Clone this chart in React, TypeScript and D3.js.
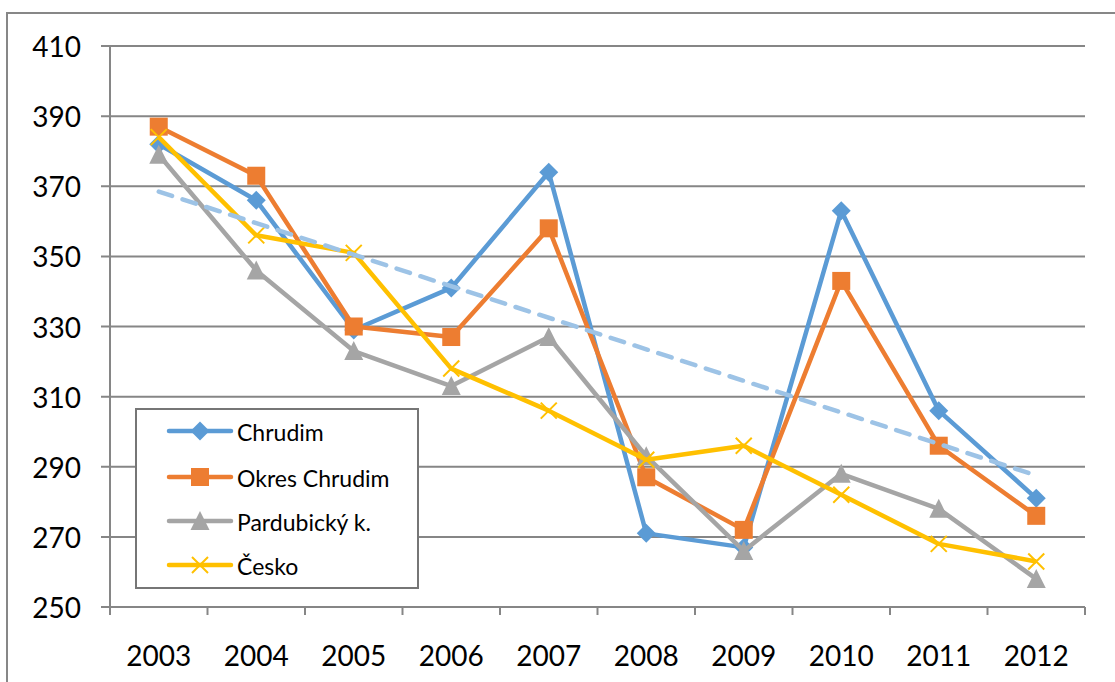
import React from 'react';
import * as d3 from 'd3';

// values
const years = ['2003', '2004', '2005', '2006', '2007', '2008', '2009', '2010', '2011', '2012'];
const chrudim = [382, 366, 329, 341, 374, 271, 267, 363, 306, 281];
const okresChrudim = [387, 373, 330, 327, 358, 287, 272, 343, 296, 276];
const pardubicky = [379, 346, 323, 313, 327, 293, 266, 288, 278, 258];
const cesko = [384, 356, 351, 318, 306, 292, 296, 282, 268, 263];
const yTicks = [250, 270, 290, 310, 330, 350, 370, 390, 410];

const seriesNames = ['Chrudim', 'Okres Chrudim', 'Pardubický k.', 'Česko'];
const seriesColors = ['#5B9BD5', '#ED7D31', '#A5A5A5', '#FFC000'];
const seriesMarkers = ['diamond', 'square', 'triangle', 'x'];
const seriesData = [chrudim, okresChrudim, pardubicky, cesko];

const W = 1115;
const H = 682;
const FONT = 'Lato, "Open Sans", sans-serif';
const GRID = '#868686';

const Marker = ({ type, x, y, color }: { type: string; x: number; y: number; color: string }) => {
  if (type === 'diamond') {
    const s = 9.5;
    return <path d={`M${x},${y - s}L${x + s},${y}L${x},${y + s}L${x - s},${y}Z`} fill={color} />;
  }
  if (type === 'square') {
    return <rect x={x - 9} y={y - 9} width={18} height={18} fill={color} />;
  }
  if (type === 'triangle') {
    return <path d={`M${x},${y - 10}L${x + 9.5},${y + 9}L${x - 9.5},${y + 9}Z`} fill={color} />;
  }
  const s = 8;
  return (
    <path
      d={`M${x - s},${y - s}L${x + s},${y + s}M${x + s},${y - s}L${x - s},${y + s}`}
      stroke={color}
      strokeWidth={2}
      fill="none"
    />
  );
};

export default function App() {
  const left = 110;
  const right = 1085;
  const top = 46;
  const bottom = 607;

  const x = d3.scaleBand().domain(years).range([left, right]).padding(0);
  const y = d3.scaleLinear().domain([250, 410]).range([bottom, top]);
  const cx = (i: number) => (x(years[i]) as number) + x.bandwidth() / 2;

  const line = d3
    .line<number>()
    .x((_, i) => cx(i))
    .y((d) => y(d));

  // linear trend of Chrudim
  const idx = years.map((_, i) => i + 1);
  const mx = d3.mean(idx) as number;
  const my = d3.mean(chrudim) as number;
  const slope =
    (d3.sum(idx, (v, i) => (v - mx) * (chrudim[i] - my)) as number) /
    (d3.sum(idx, (v) => (v - mx) * (v - mx)) as number);
  const trend = idx.map((v) => my + slope * (v - mx));
  const trendEnds = [trend[0], trend[trend.length - 1]];
  const trendLine = d3
    .line<number>()
    .x((_, i) => (i === 0 ? cx(0) : cx(years.length - 1)))
    .y((d) => y(d));

  const legendX = 136;
  const legendY = 409;
  const legendRows = [431, 477, 521, 565];

  return (
    <svg
      width={W}
      height={H}
      style={{ position: 'fixed', left: 0, top: 0, background: '#fff' }}
      fontFamily={FONT}
    >
      <rect x={7} y={13} width={W} height={H} fill="#fff" stroke="#878787" strokeWidth={2} />

      {/* gridlines + y labels */}
      {yTicks.map((t) => (
        <g key={t}>
          <line x1={101} x2={right} y1={y(t)} y2={y(t)} stroke={GRID} strokeWidth={2} />
          <text x={81} y={y(t)} textAnchor="end" dominantBaseline="central" fontSize={28} fill="#000">
            {t}
          </text>
        </g>
      ))}

      {/* y axis */}
      <line x1={left} x2={left} y1={top} y2={bottom} stroke={GRID} strokeWidth={2} />

      {/* x ticks + labels */}
      {years.map((yr, i) => (
        <g key={yr}>
          <line
            x1={x(yr) as number}
            x2={x(yr) as number}
            y1={bottom}
            y2={bottom + 8}
            stroke={GRID}
            strokeWidth={2}
          />
          <text x={cx(i)} y={655} textAnchor="middle" dominantBaseline="central" fontSize={28} fill="#000">
            {yr}
          </text>
        </g>
      ))}
      <line x1={right} x2={right} y1={bottom} y2={bottom + 8} stroke={GRID} strokeWidth={2} />

      {/* series */}
      {seriesData.map((data, s) => (
        <g key={seriesNames[s]}>
          <path d={line(data) as string} fill="none" stroke={seriesColors[s]} strokeWidth={4.5} strokeLinejoin="round" />
          {data.map((v, i) => (
            <Marker key={i} type={seriesMarkers[s]} x={cx(i)} y={y(v)} color={seriesColors[s]} />
          ))}
        </g>
      ))}

      {/* trend line */}
      <path
        d={trendLine(trendEnds) as string}
        fill="none"
        stroke="#9DC3E6"
        strokeWidth={4.5}
        strokeDasharray="14 11"
        strokeLinecap="round"
      />

      {/* legend */}
      <rect
        x={legendX}
        y={legendY}
        width={282}
        height={179}
        fill="#fff"
        stroke="#767676"
        strokeWidth={2}
      />
      {seriesNames.map((name, s) => (
        <g key={name}>
          <line
            x1={169}
            x2={231}
            y1={legendRows[s]}
            y2={legendRows[s]}
            stroke={seriesColors[s]}
            strokeWidth={4.5}
            strokeLinecap="round"
          />
          <Marker type={seriesMarkers[s]} x={200} y={legendRows[s]} color={seriesColors[s]} />
          <text x={237} y={legendRows[s] + 1} dominantBaseline="central" fontSize={23} fill="#000">
            {name}
          </text>
        </g>
      ))}
    </svg>
  );
}
